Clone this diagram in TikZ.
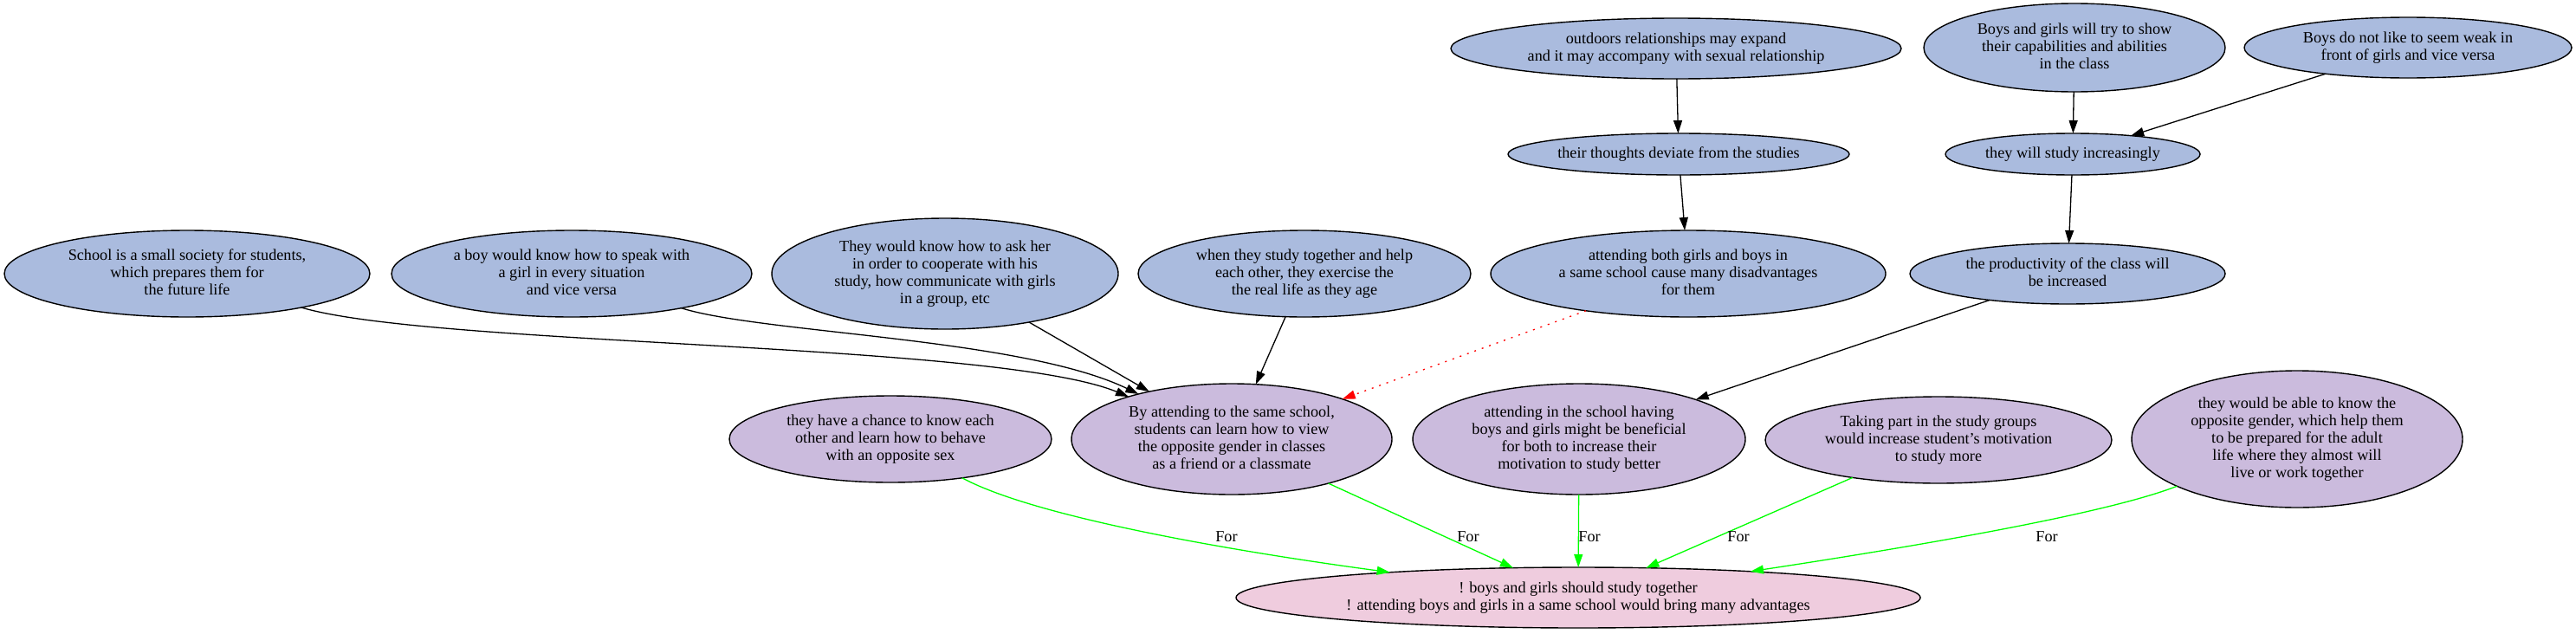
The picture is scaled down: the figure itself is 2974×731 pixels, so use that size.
\documentclass[tikz,border=0pt]{standalone}
\usepackage{fontspec}
\setmainfont{Liberation Serif}
\usetikzlibrary{shapes.geometric,arrows.meta}
\definecolor{nblue}{RGB}{170,187,222}
\definecolor{npurple}{RGB}{203,187,221}
\definecolor{npink}{RGB}{239,204,222}
\definecolor{egreen}{RGB}{0,255,0}
\definecolor{ered}{RGB}{255,0,0}
\newcommand{\tx}[1]{\smash{\makebox[0pt]{\raisebox{-4.5pt}{\begin{tabular}{@{}c@{}}#1\end{tabular}}}}}
\tikzset{
  basenode/.style={ellipse, draw=black, line width=1.4pt, inner sep=0pt, outer sep=0pt,
    font=\fontsize{18.2}{20}\selectfont},
  bluen/.style={basenode, fill=nblue},
  purplen/.style={basenode, fill=npurple},
  pinkn/.style={basenode, fill=npink},
  blkedge/.style={draw=black, line width=1.3pt, -{Triangle[length=15pt,width=10pt]}},
  rededge/.style={draw=ered, line width=1.3pt, dash pattern=on 2pt off 7pt, -{Triangle[length=15pt,width=10pt]}},
  grnedge/.style={draw=egreen, line width=1.3pt, -{Triangle[length=15pt,width=10pt]}},
  forlbl/.style={font=\fontsize{18.2}{20}\selectfont, inner sep=0pt},
}
\begin{document}
\begin{tikzpicture}[x=1pt,y=-1pt]
\useasboundingbox (0,0) rectangle (2974,731);
% top
\node[bluen, minimum width=520pt, minimum height=70pt] (n1) at (1935,56) {\tx{outdoors relationships may expand\\and it may accompany with sexual relationship}};
\node[bluen, minimum width=394pt, minimum height=48pt] (n2) at (1938,178) {\tx{their thoughts deviate from the studies}};
\node[bluen, minimum width=348pt, minimum height=102pt] (n3) at (2395,55) {\tx{Boys and girls will try to show\\their capabilities and abilities\\in the class}};
\node[bluen, minimum width=378pt, minimum height=70pt] (n4) at (2780,55) {\tx{Boys do not like to seem weak in\\front of girls and vice versa}};
\node[bluen, minimum width=294pt, minimum height=48pt] (n5) at (2393,178) {\tx{they will study increasingly}};
\node[bluen, minimum width=364pt, minimum height=70pt] (n6) at (2387,316) {\tx{the productivity of the class will\\be increased}};
% middle
\node[bluen, minimum width=422pt, minimum height=100pt] (n7) at (216,316) {\tx{School is a small society for students,\\which prepares them for\\the future life}};
\node[bluen, minimum width=416pt, minimum height=100pt] (n8) at (660,316) {\tx{a boy would know how to speak with\\a girl in every situation\\and vice versa}};
\node[bluen, minimum width=400pt, minimum height=128pt] (n9) at (1091,316) {\tx{They would know how to ask her\\in order to cooperate with his\\study, how communicate with girls\\in a group, etc}};
\node[bluen, minimum width=384pt, minimum height=100pt] (n10) at (1506,316) {\tx{when they study together and help\\each other, they exercise the\\the real life as they age}};
\node[bluen, minimum width=456pt, minimum height=100pt] (n11) at (1949,316) {\tx{attending both girls and boys in\\a same school cause many disadvantages\\for them}};
% lower
\node[purplen, minimum width=372pt, minimum height=100pt] (n12) at (1028,507) {\tx{they have a chance to know each\\other and learn how to behave\\with an opposite sex}};
\node[purplen, minimum width=370pt, minimum height=128pt] (n13) at (1422,507) {\tx{By attending to the same school,\\students can learn how to view\\the opposite gender in classes\\as a friend or a classmate}};
\node[purplen, minimum width=384pt, minimum height=128pt] (n14) at (1823,507) {\tx{attending in the school having\\boys and girls might be beneficial\\for both to increase their\\motivation to study better}};
\node[purplen, minimum width=400pt, minimum height=100pt] (n15) at (2238,508) {\tx{Taking part in the study groups\\would increase student's motivation\\to study more}};
\node[purplen, minimum width=382pt, minimum height=158pt] (n16) at (2652,507) {\tx{they would be able to know the\\opposite gender, which help them\\to be prepared for the adult\\life where they almost will\\live or work together}};
\node[pinkn, minimum width=790pt, minimum height=70pt] (n17) at (1822,690) {\tx{! boys and girls should study together\\! attending boys and girls in a same school would bring many advantages}};
% black edges
\draw[blkedge] (n1) -- (n2);
\draw[blkedge] (n2) -- (n11);
\draw[blkedge] (n3) -- (n5);
\draw[blkedge] (n4) -- (n5);
\draw[blkedge] (n5) -- (n6);
\draw[blkedge] (n6) -- (n14);
\draw[blkedge] (n7) .. controls (500,400) and (1150,395) .. (n13);
\draw[blkedge] (n8) .. controls (880,385) and (1180,390) .. (n13);
\draw[blkedge] (n9) -- (n13);
\draw[blkedge] (n10) -- (n13);
\draw[rededge] (n11) -- (n13);
% green edges
\draw[grnedge] (n12) .. controls (1200,600) and (1450,640) .. (n17);
\draw[grnedge] (n13) -- (n17);
\draw[grnedge] (n14) -- (n17);
\draw[grnedge] (n15) -- (n17);
\draw[grnedge] (n16) .. controls (2440,590) and (2250,625) .. (n17);
% labels
\node[forlbl] (f1) at (1416,620) {For};
\node[forlbl] (f2) at (1695,620) {For};
\node[forlbl] (f3) at (1835,620) {For};
\node[forlbl] (f4) at (2007,620) {For};
\node[forlbl] (f5) at (2363,620) {For};
\end{tikzpicture}
\end{document}
